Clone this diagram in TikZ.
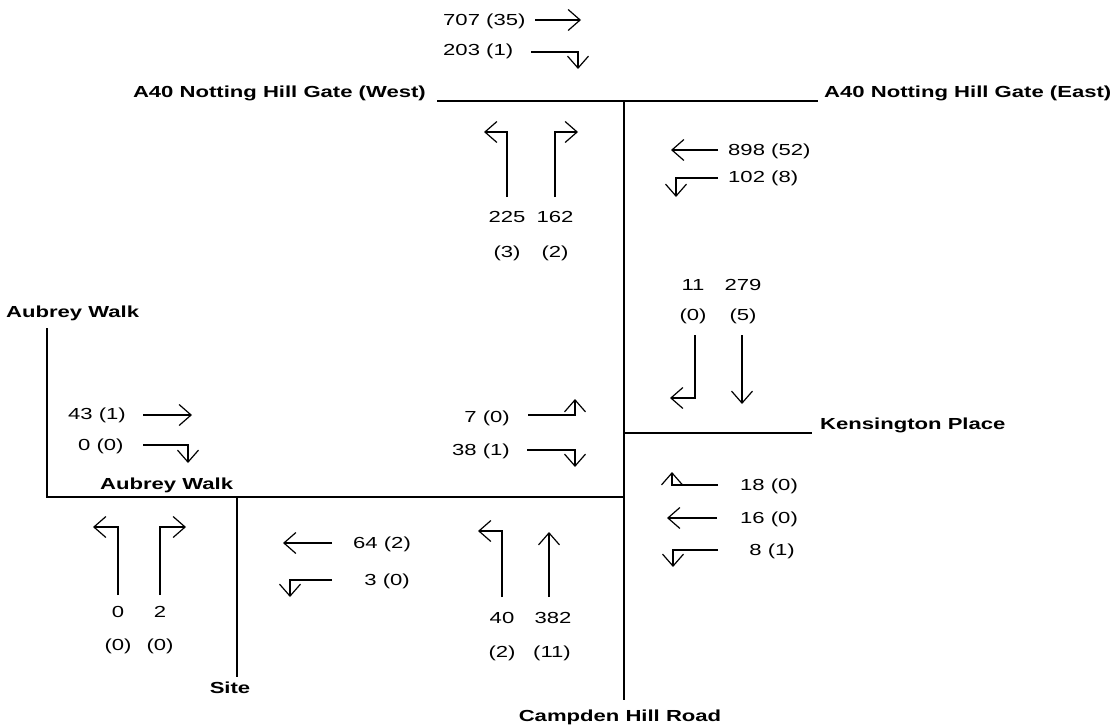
\documentclass[tikz,border=0pt]{standalone}
\usepackage{fontspec}
\setmainfont[FakeStretch=1.38]{Liberation Sans}
\usetikzlibrary{arrows.meta}

\begin{document}
\begin{tikzpicture}[
  x=1pt, y=-1pt,
  road/.style={line width=1.3pt},
  flow/.style={line width=1.2pt, -{Straight Barb[length=12pt, width=21pt]}},
  count/.style={inner sep=0pt, text height=11.5pt, text depth=0pt, font=\fontsize{16}{19}\selectfont},
  street/.style={count, font=\fontsize{16}{19}\selectfont\bfseries}
]
\useasboundingbox (0,0) rectangle (1114,728);
\draw[road] (437,101) -- (818,101);
\draw[road] (624,101) -- (624,700);
\draw[road] (47,328) -- (47,497) -- (624,497);
\draw[road] (237,497) -- (237,677);
\draw[road] (624,433) -- (812,433);
\node[street, anchor=east] (west) at (426,92) {A40 Notting Hill Gate (West)};
\node[street, anchor=west] (east) at (824,92) {A40 Notting Hill Gate (East)};
\node[street, anchor=west] (aubrey) at (6,312) {Aubrey Walk};
\node[street, anchor=west] (aubreyjn) at (100,484) {Aubrey Walk};
\node[street, anchor=west] (kens) at (820,424) {Kensington Place};
\node[street] (site) at (230,688) {Site};
\node[street] (campden) at (620,716) {Campden Hill Road};
% A40 eastbound
\node[count, anchor=west] (c707) at (443,20) {707 (35)};
\draw[flow] (535,20) -- (581,20);
\node[count, anchor=west] (c203) at (443,50) {203 (1)};
\draw[flow] (531,52) -- (578,52) -- (578,69);
% Campden Hill Road north arm
\draw[flow] (507,197) -- (507,132) -- (484,132);
\draw[flow] (555,197) -- (555,132) -- (578,132);
\node[count] (c225) at (507,217) {225};
\node[count] (c162) at (555,217) {162};
\node[count] (h225) at (507,252) {(3)};
\node[count] (h162) at (555,252) {(2)};
% A40 westbound
\draw[flow] (718,150) -- (671,150);
\node[count, anchor=west] (c898) at (728,150) {898 (52)};
\draw[flow] (718,178) -- (676,178) -- (676,197);
\node[count, anchor=west] (c102) at (728,177) {102 (8)};
% Campden Hill Road southbound
\node[count] (c11) at (693,285) {11};
\node[count] (c279) at (743,285) {279};
\node[count] (h11) at (693,315) {(0)};
\node[count] (h279) at (743,315) {(5)};
\draw[flow] (695,335) -- (695,398) -- (670,398);
\draw[flow] (742,335) -- (742,404);
% Campden Hill Road northbound at Kensington Place
\node[count, anchor=east] (c7) at (510,417) {7 (0)};
\draw[flow] (528,415) -- (575,415) -- (575,399);
\node[count, anchor=east] (c38) at (510,450) {38 (1)};
\draw[flow] (527,450) -- (575,450) -- (575,467);
% Aubrey Walk
\node[count, anchor=west] (c43) at (68,414) {43 (1)};
\draw[flow] (143,415) -- (192,415);
\node[count, anchor=west] (c0) at (78,445) {0 (0)};
\draw[flow] (143,445) -- (188,445) -- (188,463);
\draw[flow] (118,595) -- (118,527) -- (93,527);
\draw[flow] (160,595) -- (160,527) -- (186,527);
\node[count] (a0) at (118,612) {0};
\node[count] (a2) at (160,612) {2};
\node[count] (ha0) at (118,645) {(0)};
\node[count] (ha2) at (160,645) {(0)};
% Site
\draw[flow] (332,543) -- (283,543);
\node[count, anchor=west] (c64) at (353,543) {64 (2)};
\draw[flow] (332,580) -- (290,580) -- (290,597);
\node[count, anchor=east] (c3) at (410,580) {3 (0)};
% Campden Hill Road south arm
\draw[flow] (502,597) -- (502,531) -- (478,531);
\draw[flow] (549,597) -- (549,532);
\node[count] (c40) at (502,618) {40};
\node[count] (c382) at (553,618) {382};
\node[count] (h40) at (502,652) {(2)};
\node[count] (h382) at (552,652) {(11)};
% Kensington Place
\draw[flow] (718,485) -- (672,485) -- (672,472);
\node[count, anchor=west] (c18) at (740,485) {18 (0)};
\draw[flow] (717,518) -- (667,518);
\node[count, anchor=west] (c16) at (740,518) {16 (0)};
\draw[flow] (718,550) -- (673,550) -- (673,567);
\node[count, anchor=east] (c8) at (795,550) {8 (1)};
\end{tikzpicture}
\end{document}
